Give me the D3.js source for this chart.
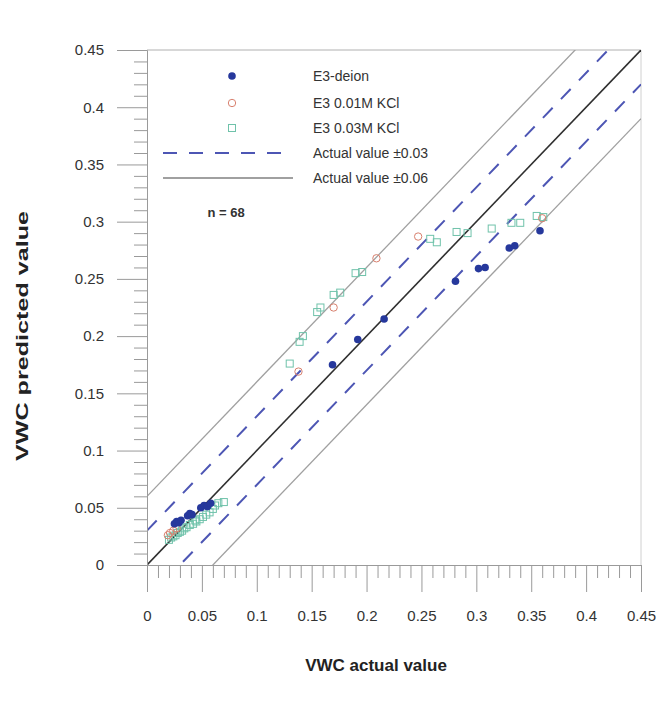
<!DOCTYPE html>
<html>
<head>
<meta charset="utf-8">
<script src="https://cdn.jsdelivr.net/npm/d3@7"></script>
<style>
  html, body { margin: 0; padding: 0; background: #fff; }
  svg { display: block; font-family: "Liberation Sans", Arial, sans-serif; }
</style>
</head>
<body>
<svg id="chart" width="672" height="701"></svg>
<script>
// Measured vs predicted volumetric water content (VWC)
const deion = [
  [0.025,0.036],[0.027,0.038],[0.029,0.037],[0.031,0.039],[0.037,0.043],
  [0.039,0.045],[0.041,0.044],[0.049,0.050],[0.052,0.052],[0.055,0.051],
  [0.058,0.054],[0.169,0.175],[0.192,0.197],[0.216,0.215],[0.281,0.248],
  [0.302,0.259],[0.308,0.260],[0.330,0.277],[0.335,0.279],[0.358,0.292]
];
const kcl001 = [
  [0.019,0.026],[0.021,0.028],[0.024,0.030],[0.027,0.032],[0.138,0.169],
  [0.170,0.225],[0.209,0.268],[0.247,0.287],[0.360,0.303]
];
const kcl003 = [
  [0.020,0.022],[0.022,0.024],[0.024,0.025],[0.026,0.026],[0.028,0.028],
  [0.030,0.029],[0.032,0.030],[0.034,0.032],[0.036,0.033],[0.039,0.035],
  [0.042,0.036],[0.044,0.039],[0.045,0.038],[0.048,0.040],[0.051,0.042],
  [0.054,0.044],[0.057,0.046],[0.060,0.049],[0.062,0.052],[0.065,0.054],
  [0.070,0.055],
  [0.130,0.176],[0.139,0.195],[0.142,0.200],[0.155,0.221],[0.158,0.225],
  [0.170,0.236],[0.176,0.238],[0.190,0.255],[0.196,0.256],[0.258,0.285],
  [0.264,0.282],[0.282,0.291],[0.292,0.290],[0.314,0.294],[0.332,0.299],
  [0.340,0.299],[0.355,0.305],[0.361,0.304]
];
const majorTicks = [0, 0.05, 0.1, 0.15, 0.2, 0.25, 0.3, 0.35, 0.4, 0.45];
const tickLabels = ["0", "0.05", "0.1", "0.15", "0.2", "0.25", "0.3", "0.35", "0.4", "0.45"];
const minorTicks = d3.range(0, 46).map(i => i / 100).filter(v => Math.round(v * 100) % 5 !== 0);
const bands = [
  { offset: 0,     kind: "one" },
  { offset: 0.03,  kind: "dash" },
  { offset: -0.03, kind: "dash" },
  { offset: 0.06,  kind: "grey" },
  { offset: -0.06, kind: "grey" }
];
const seriesNames = ["E3-deion", "E3 0.01M KCl", "E3 0.03M KCl"];
const lineNames = ["Actual value \u00b10.03", "Actual value \u00b10.06"];
const sampleCount = deion.length + kcl001.length + kcl003.length;

const colors = { deion: "#26389c", kcl001: "#d8806e", kcl003: "#6fc2aa", dash: "#4d56b4", one: "#2f2f2f", grey: "#a0a0a0", axis: "#9a9a9a" };

const svg = d3.select("#chart");
const x = d3.scaleLinear().domain([0, 0.45]).range([147, 641]);
const y = d3.scaleLinear().domain([0, 0.45]).range([565, 50]);

// frame: top and right edges
svg.append("line").attr("x1", x(0)).attr("x2", x(0.45)).attr("y1", y(0.45)).attr("y2", y(0.45))
  .attr("stroke", "#b0b0b0").attr("stroke-width", 1);
svg.append("line").attr("x1", x(0.45)).attr("x2", x(0.45)).attr("y1", y(0.45)).attr("y2", y(0))
  .attr("stroke", "#d0d0d0").attr("stroke-width", 1);

// reference lines, clipped to the plot area
svg.append("clipPath").attr("id", "plotClip").append("rect")
  .attr("x", x(0)).attr("y", y(0.45)).attr("width", x(0.45) - x(0)).attr("height", y(0) - y(0.45));
const lineG = svg.append("g").attr("clip-path", "url(#plotClip)");
bands.forEach(b => {
  const l = lineG.append("line")
    .attr("x1", x(0)).attr("y1", y(0 + b.offset))
    .attr("x2", x(0.45)).attr("y2", y(0.45 + b.offset));
  if (b.kind === "one") l.attr("stroke", colors.one).attr("stroke-width", 1.6);
  else if (b.kind === "dash") l.attr("stroke", colors.dash).attr("stroke-width", 2).attr("stroke-dasharray", "14,12");
  else l.attr("stroke", colors.grey).attr("stroke-width", 1.3);
});

// axes
const axisFont = "15px";
const yMajor = d3.axisLeft(y).tickValues(majorTicks).tickSize(30).tickSizeOuter(0).tickPadding(13)
  .tickFormat((d, i) => tickLabels[i]);
const yMinor = d3.axisLeft(y).tickValues(minorTicks).tickSize(13).tickSizeOuter(0).tickFormat("");
const xMajor = d3.axisBottom(x).tickValues(majorTicks).tickSize(27).tickSizeOuter(0).tickPadding(18)
  .tickFormat((d, i) => tickLabels[i]);
const xMinor = d3.axisBottom(x).tickValues(minorTicks).tickSize(13).tickSizeOuter(0).tickFormat("");

function styleAxis(g) {
  g.selectAll("path, line").attr("stroke", colors.axis).attr("stroke-width", 1);
  g.selectAll("text").attr("fill", "#333").style("font-size", axisFont).style("font-family", "Liberation Sans, Arial, sans-serif");
}
svg.append("g").attr("transform", `translate(${x(0)},0)`).call(yMinor).call(styleAxis);
svg.append("g").attr("transform", `translate(${x(0)},0)`).call(yMajor).call(styleAxis);
svg.append("g").attr("transform", `translate(0,${y(0)})`).call(xMinor).call(styleAxis);
svg.append("g").attr("transform", `translate(0,${y(0)})`).call(xMajor).call(styleAxis);

// data marks
const pts = svg.append("g");
pts.selectAll("rect.k3").data(kcl003).enter().append("rect").attr("class", "k3")
  .attr("x", d => x(d[0]) - 3.5).attr("y", d => y(d[1]) - 3.5).attr("width", 7).attr("height", 7)
  .attr("fill", "none").attr("stroke", colors.kcl003).attr("stroke-width", 1);
pts.selectAll("circle.k1").data(kcl001).enter().append("circle").attr("class", "k1")
  .attr("cx", d => x(d[0])).attr("cy", d => y(d[1])).attr("r", 3.7)
  .attr("fill", "none").attr("stroke", colors.kcl001).attr("stroke-width", 1);
pts.selectAll("circle.dn").data(deion).enter().append("circle").attr("class", "dn")
  .attr("cx", d => x(d[0])).attr("cy", d => y(d[1])).attr("r", 3.8)
  .attr("fill", colors.deion);

// legend
const lg = svg.append("g");
const lgX = 232, textX = 313, rows = [76, 103, 128, 153, 178];
lg.append("circle").attr("cx", lgX).attr("cy", rows[0]).attr("r", 3.8).attr("fill", colors.deion);
lg.append("circle").attr("cx", lgX).attr("cy", rows[1]).attr("r", 3.7).attr("fill", "none").attr("stroke", colors.kcl001);
lg.append("rect").attr("x", lgX - 3.5).attr("y", rows[2] - 3.5).attr("width", 7).attr("height", 7)
  .attr("fill", "none").attr("stroke", colors.kcl003);
lg.append("line").attr("x1", 163).attr("x2", 293).attr("y1", rows[3]).attr("y2", rows[3])
  .attr("stroke", colors.dash).attr("stroke-width", 2).attr("stroke-dasharray", "14,12");
lg.append("line").attr("x1", 163).attr("x2", 293).attr("y1", rows[4]).attr("y2", rows[4])
  .attr("stroke", colors.grey).attr("stroke-width", 2);
const legendLabels = seriesNames.concat(lineNames);
lg.selectAll("text").data(legendLabels).enter().append("text")
  .attr("x", textX).attr("y", (d, i) => rows[i]).attr("dy", "0.35em")
  .attr("fill", "#333").style("font-size", "14px").text(d => d);
svg.append("text").attr("x", 226).attr("y", 212).attr("dy", "0.35em").attr("text-anchor", "middle")
  .attr("fill", "#333").style("font-size", "13px").style("font-weight", "bold").text("n = " + sampleCount);

// axis titles
svg.append("text").attr("x", 376).attr("y", 665).attr("dy", "0.35em").attr("text-anchor", "middle")
  .attr("fill", "#222").style("font-size", "17px").style("font-weight", "bold").text("VWC actual value");
svg.append("text").attr("transform", "translate(22,336) rotate(-90)").attr("dy", "0.35em").attr("text-anchor", "middle")
  .attr("textLength", 250).attr("lengthAdjust", "spacingAndGlyphs")
  .attr("fill", "#222").style("font-size", "17px").style("font-weight", "bold").text("VWC predicted value");
</script>
</body>
</html>
